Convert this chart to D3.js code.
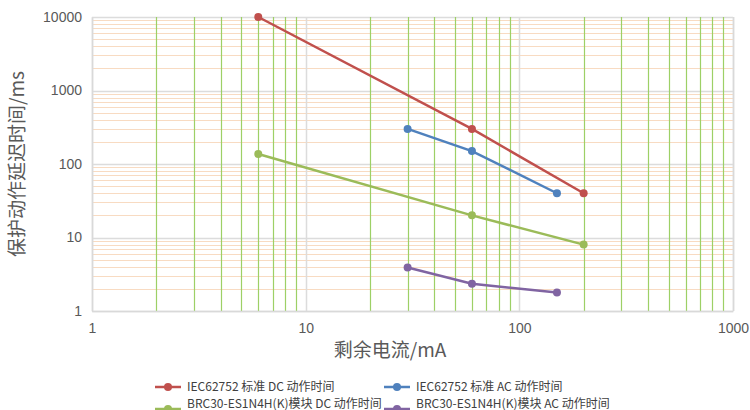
<!DOCTYPE html>
<html>
<head>
<meta charset="utf-8">
<script src="https://cdnjs.cloudflare.com/ajax/libs/d3/7.8.5/d3.min.js"></script>
<style>
  body { margin: 0; background: #fff; }
  svg { display: block; font-family: "Noto Sans", "Noto Sans CJK SC", sans-serif; }
</style>
</head>
<body>
<svg id="chart" width="750" height="410"></svg>
<script>
// data
const seriesNames = [
  "IEC62752 标准 DC 动作时间",
  "IEC62752 标准 AC 动作时间",
  "BRC30-ES1N4H(K)模块 DC 动作时间",
  "BRC30-ES1N4H(K)模块 AC 动作时间"
];
const seriesColors = ["#c0504d", "#4f81bd", "#9bbb59", "#8064a2"];
const iecDC = [[6, 10000], [60, 300], [200, 40]];
const iecAC = [[30, 300], [60, 150], [150, 40]];
const brcDC = [[6, 137], [60, 20], [200, 8]];
const brcAC = [[30, 3.9], [60, 2.35], [150, 1.78]];
const xTicks = [1, 10, 100, 1000];
const yTicks = [1, 10, 100, 1000, 10000];

const margin = { top: 17, right: 17, bottom: 99, left: 92 };
const width = 750, height = 410;
const innerWidth = width - margin.left - margin.right;
const innerHeight = height - margin.top - margin.bottom;

const svg = d3.select('#chart');
const g = svg.append('g')
  .attr('transform', 'translate(' + margin.left + ',' + margin.top + ')');

const x = d3.scaleLog().domain([1, 1000]).range([0, innerWidth]);
const y = d3.scaleLog().domain([1, 10000]).range([innerHeight, 0]);

// minor values 2..9 in every decade
function minors(lo, hi) {
  const out = [];
  for (let d = lo; d < hi; d *= 10) {
    for (let k = 2; k <= 9; k++) out.push(d * k);
  }
  return out;
}

// horizontal minor gridlines (orange)
g.append('g').selectAll('line')
  .data(minors(1, 10000))
  .join('line')
  .attr('x1', 0).attr('x2', innerWidth)
  .attr('y1', d => Math.round(y(d)) + 0.5).attr('y2', d => Math.round(y(d)) + 0.5)
  .attr('stroke', '#f8dbc2').attr('stroke-width', 1);

// horizontal major gridlines (grey)
g.append('g').selectAll('line')
  .data(yTicks)
  .join('line')
  .attr('x1', 0).attr('x2', innerWidth)
  .attr('y1', d => Math.round(y(d)) + 0.5).attr('y2', d => Math.round(y(d)) + 0.5)
  .attr('stroke', '#dcdcdc').attr('stroke-width', 1.5);

// vertical minor gridlines (green)
g.append('g').selectAll('line')
  .data(minors(1, 1000))
  .join('line')
  .attr('y1', 0).attr('y2', innerHeight)
  .attr('x1', d => Math.round(x(d)) + 0.5).attr('x2', d => Math.round(x(d)) + 0.5)
  .attr('stroke', '#9dd066').attr('stroke-width', 1.2);

// vertical major gridlines (grey)
g.append('g').selectAll('line')
  .data(xTicks)
  .join('line')
  .attr('y1', 0).attr('y2', innerHeight)
  .attr('x1', d => Math.round(x(d)) + 0.5).attr('x2', d => Math.round(x(d)) + 0.5)
  .attr('stroke', '#dcdcdc').attr('stroke-width', 1.5);

// axes
const yAxis = g.append('g')
  .call(d3.axisLeft(y).tickValues(yTicks).tickFormat(d3.format('d')).tickSize(0).tickPadding(10));
yAxis.select('.domain').attr('stroke', '#d9d9d9').attr('stroke-width', 1.5);
yAxis.selectAll('text').attr('font-size', 14).attr('fill', '#595959');

const xAxis = g.append('g')
  .attr('transform', 'translate(0,' + innerHeight + ')')
  .call(d3.axisBottom(x).tickValues(xTicks).tickFormat(d3.format('d')).tickSize(0).tickPadding(12));
xAxis.select('.domain').attr('stroke', '#d9d9d9').attr('stroke-width', 1.5);
xAxis.selectAll('text').attr('font-size', 14).attr('fill', '#595959');

// right border
g.append('line')
  .attr('x1', innerWidth + 0.5).attr('x2', innerWidth + 0.5)
  .attr('y1', 0).attr('y2', innerHeight)
  .attr('stroke', '#d9d9d9').attr('stroke-width', 1.5);

// axis labels
g.append('text')
  .attr('transform', 'rotate(-90)')
  .attr('x', -innerHeight / 2)
  .attr('y', -68)
  .attr('text-anchor', 'middle')
  .attr('font-size', 19)
  .attr('fill', '#595959')
  .style('font-family', '"Noto Sans CJK SC", sans-serif')
  .text('保护动作延迟时间/ms');

g.append('text')
  .attr('x', 298)
  .attr('y', innerHeight + 46)
  .attr('text-anchor', 'middle')
  .attr('font-size', 19)
  .attr('fill', '#595959')
  .style('font-family', '"Noto Sans CJK SC", sans-serif')
  .text('剩余电流/mA');

// series
const allSeries = [iecDC, iecAC, brcDC, brcAC];
const line = d3.line().x(d => x(d[0])).y(d => y(d[1]));

allSeries.forEach(function (s, i) {
  g.append('path')
    .datum(s)
    .attr('fill', 'none')
    .attr('stroke', seriesColors[i])
    .attr('stroke-width', 2.5)
    .attr('d', line);
  g.append('g').selectAll('circle')
    .data(s)
    .join('circle')
    .attr('cx', d => x(d[0]))
    .attr('cy', d => y(d[1]))
    .attr('r', 4)
    .attr('fill', seriesColors[i]);
});

// legend, two columns
const legendX = [155, 384];
const legendY = [387, 409];
seriesNames.forEach(function (name, i) {
  const lx = legendX[i % 2];
  const ly = legendY[Math.floor(i / 2)];
  svg.append('line')
    .attr('x1', lx).attr('x2', lx + 26)
    .attr('y1', ly).attr('y2', ly)
    .attr('stroke', seriesColors[i]).attr('stroke-width', 2.5);
  svg.append('circle')
    .attr('cx', lx + 13).attr('cy', ly).attr('r', 4)
    .attr('fill', seriesColors[i]);
  svg.append('text')
    .attr('x', lx + 32)
    .attr('y', ly + (i < 2 ? 4 : -1))
    .attr('font-size', 12)
    .attr('fill', '#404040')
    .style('font-family', '"Noto Sans CJK SC", sans-serif')
    .text(name);
});
</script>
</body>
</html>
